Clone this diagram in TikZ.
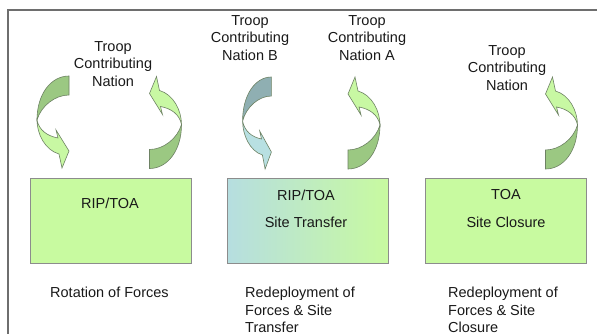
\documentclass[tikz,border=0pt]{standalone}
\usepackage{fontspec}
\setmainfont{Liberation Sans}
\definecolor{dkgreen}{RGB}{155,200,130}
\definecolor{ltgreen}{RGB}{200,248,163}
\definecolor{boxgreen}{RGB}{200,250,160}
\definecolor{dkteal}{RGB}{143,175,178}
\definecolor{ltteal}{RGB}{184,224,226}
\definecolor{boxteal}{RGB}{182,222,224}
\definecolor{ribline}{RGB}{110,130,100}
\definecolor{frameline}{RGB}{110,110,110}
\definecolor{boxline}{RGB}{140,140,140}
\definecolor{txt}{RGB}{25,25,25}
\begin{document}
\begin{tikzpicture}[x=1pt,y=-1pt,
  every node/.style={font=\fontsize{14.5}{17.5}\selectfont, text=txt, inner sep=0pt},
  ttl/.style={align=center},
  lbl/.style={align=left, anchor=north west},
  boxnode/.style={draw=boxline, line width=1pt, minimum width=161pt, minimum height=85pt},
  pics/ribbon/.style 2 args={code={
    \path[fill=#1, draw=ribline, line width=0.6pt]
      (16,-46) .. controls (-2,-46) and (-16,-28) .. (-16,-2)
      .. controls (-12,-16) and (2,-27) .. (16,-27) -- cycle;
    \path[fill=#2, draw=ribline, line width=0.6pt]
      (-16,-2) .. controls (-16,12) and (-8,28) .. (6,32)
      -- (9,46) -- (16,29) -- (3,8) -- (5,16)
      .. controls (-6,14) and (-14,8) .. (-16,-2) -- cycle;
  }}]
\useasboundingbox (0,0) rectangle (597,334);
\fill[white] (0,0) rectangle (597,334);
\draw[frameline, line width=1.2pt] (8,334) -- (8,10) -- (597,10);

% titles
\node[ttl] (t1) at (113,64) {Troop\\Contributing\\Nation};
\node[ttl] (t2) at (250,38) {Troop\\Contributing\\Nation B};
\node[ttl] (t3) at (367,38) {Troop\\Contributing\\Nation A};
\node[ttl] (t4) at (507,68) {Troop\\Contributing\\Nation};

% curved arrows
\pic at (53,122) {ribbon={dkgreen}{ltgreen}};
\pic[rotate=180] at (165.5,122.5) {ribbon={dkgreen}{ltgreen}};
\pic[xscale=0.9] at (257,123) {ribbon={dkteal}{ltteal}};
\pic[rotate=180] at (364,123) {ribbon={dkgreen}{ltgreen}};
\pic[rotate=180] at (561.5,123) {ribbon={dkgreen}{ltgreen}};

% boxes
\node[boxnode, fill=boxgreen] (b1) at (110.5,220.5) {};
\node[boxnode, left color=boxteal, right color=boxgreen] (b2) at (308,220.5) {};
\node[boxnode, fill=boxgreen] (b3) at (506,220.5) {};

\node (b1a) at (110,203) {RIP/TOA};
\node (b2a) at (306,195) {RIP/TOA};
\node (b2b) at (306,222) {Site Transfer};
\node (b3a) at (506,195) {TOA};
\node (b3b) at (506,222) {Site Closure};

% bottom labels
\node[lbl] (l1) at (50,287) {Rotation of Forces};
\node[lbl] (l2) at (245,287) {Redeployment of\\Forces \& Site\\Transfer};
\node[lbl] (l3) at (448,287) {Redeployment of\\Forces \& Site\\Closure};
\end{tikzpicture}
\end{document}
